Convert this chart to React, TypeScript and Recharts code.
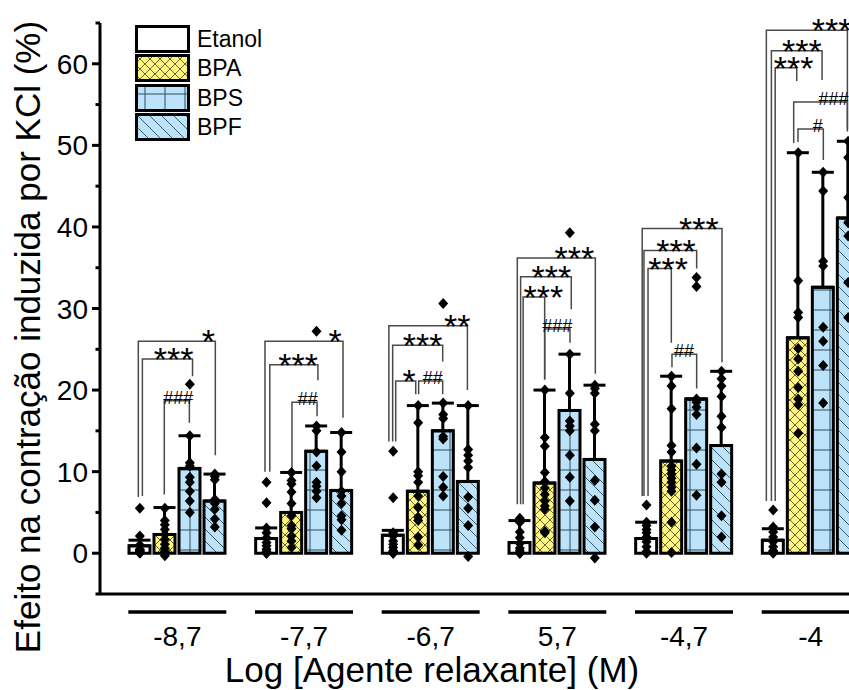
import React from 'react';
import { ComposedChart, Bar, XAxis, YAxis, Scatter, ErrorBar, Legend } from 'recharts';

const FONT = '"Liberation Sans", Arial, Helvetica, sans-serif';

// ---------- data ----------
const categories = ['-8,7', '-7,7', '-6,7', '5,7', '-4,7', '-4'];
const seriesNames = ['Etanol', 'BPA', 'BPS', 'BPF'];
const seriesKeys = ['etanol', 'bpa', 'bps', 'bpf'];

const etanolMean = [0.9, 1.8, 2.2, 1.3, 1.8, 1.6];
const etanolSd = [0.7, 1.3, 0.6, 2.7, 2.0, 1.4];
const bpaMean = [2.3, 5.0, 7.6, 8.6, 11.3, 26.4];
const bpaSd = [3.3, 4.9, 10.5, 11.4, 10.4, 22.7];
const bpsMean = [10.4, 12.5, 15.0, 17.5, 18.9, 32.6];
const bpsSd = [4.0, 3.1, 3.4, 6.9, 0, 14.1];
const bpfMean = [6.4, 7.7, 8.8, 11.5, 13.2, 41.1];
const bpfSd = [3.3, 7.1, 9.3, 9.1, 9.1, 9.4];

const etanolPts = [
  [5.5, 2.1, 1.0, 0.5, 0.3, 0.1, 0, 0.2, 0.4],
  [8.7, 6.2, 3.1, 2.5, 1.9, 1.3, 0.9, 0.5, 0.1, 0, 0.2, 0],
  [12.5, 6.8, 2.5, 2.1, 1.5, 1.1, 0.7, 0.3, 0, 0.1, 0.2, 0],
  [4.3, 3.8, 2.6, 1.9, 1.2, 0.6, 0.3, 0, 0.1, 0],
  [5.9, 3.8, 3.4, 2.9, 2.5, 2.0, 1.4, 0.8, 0.2, 0, 0.1],
  [5.3, 3.2, 2.6, 2.0, 1.4, 0.8, 0.2, 0, 0.3, 0.1],
];
const bpaPts = [
  [5.5, 4.0, 3.5, 2.9, 2.3, 1.7, 1.1, 0.6, 0.2, -0.3],
  [9.9, 8.9, 8.5, 7.5, 6.1, 4.6, 3.4, 3.0, 2.1, 1.5, 0.7],
  [18.1, 16.0, 10.0, 9.5, 8.7, 7.0, 5.6, 4.4, 4.0, 2.0, 1.0],
  [20.0, 14.2, 13.1, 9.9, 8.8, 8.0, 7.2, 6.4, 5.8, 5.4, 2.7, 2.5],
  [21.7, 20.5, 17.7, 13.2, 12.4, 10.7, 10.2, 9.7, 9.2, 8.7, 8.1, 7.6, 3.8, 0.1],
  [49.1, 33.4, 29.5, 28.9, 25.1, 23.8, 22.3, 20.3, 18.9, 18.2, 14.7],
];
const bpsPts = [
  [20.7, 14.4, 11.1, 10.7, 9.3, 8.7, 7.6, 6.4, 5.0],
  [27.2, 15.6, 15.0, 12.4, 10.7, 8.7, 8.2, 7.6, 6.8],
  [30.6, 18.4, 17.0, 16.5, 14.3, 14.0, 9.4, 8.1, 7.0],
  [39.3, 24.4, 19.6, 16.2, 15.6, 15.0, 12.0, 9.3, 6.4],
  [33.8, 32.7, 18.9, 18.5, 17.9, 17.0, 12.9, 10.9, 7.1],
  [46.7, 44.4, 35.8, 35.2, 27.7, 26.0, 23.0, 18.4],
];
const bpfPts = [
  [9.7, 9.4, 9.0, 6.6, 6.1, 5.4, 4.2, 3.2],
  [14.8, 12.4, 10.0, 7.6, 7.0, 6.1, 4.6, 4.1, 2.8],
  [18.1, 12.7, 12.0, 11.3, 10.5, 6.9, 5.5, 3.4, -0.4],
  [20.6, 20.2, 19.6, 15.8, 15.0, 8.9, 6.5, 3.2, -0.6],
  [22.3, 21.4, 20.5, 19.2, 16.8, 15.4, 9.7, 8.7, 4.6, 2.0],
  [50.5, 48.5, 43.6, 40.5, 38.9, 33.2, 28.9],
];

// significance brackets: group, left/right end (offset from group centre, in category units),
// bracket height, left/right leg bottoms, label, label position
const brackets = [
  { g: 0, x1: -0.308, x2: 0.3, top: 26.0, y1: 6.9, y2: 12.0, label: '*', lx: 0.245 },
  { g: 0, x1: -0.276, x2: 0.12, top: 23.8, y1: 7.0, y2: 21.7, label: '***', lx: -0.03 },
  { g: 0, x1: -0.103, x2: 0.095, top: 18.7, y1: 7.2, y2: 16.0, label: '###', lx: 0.008 },
  { g: 1, x1: -0.308, x2: 0.308, top: 26.0, y1: 10.0, y2: 16.6, label: '*', lx: 0.245 },
  { g: 1, x1: -0.27, x2: 0.11, top: 23.1, y1: 10.0, y2: 21.2, label: '***', lx: -0.047 },
  { g: 1, x1: -0.095, x2: 0.103, top: 18.5, y1: 10.0, y2: 16.8, label: '##', lx: 0.03 },
  { g: 2, x1: -0.33, x2: 0.29, top: 27.9, y1: 13.7, y2: 20.0, label: '**', lx: 0.21 },
  { g: 2, x1: -0.3, x2: 0.095, top: 25.5, y1: 13.7, y2: 23.5, label: '***', lx: -0.063 },
  { g: 2, x1: -0.276, x2: -0.118, top: 21.1, y1: 13.7, y2: 19.5, label: '*', lx: -0.17 },
  { g: 2, x1: -0.095, x2: 0.095, top: 21.1, y1: 19.5, y2: 19.5, label: '##', lx: 0.016 },
  { g: 3, x1: -0.316, x2: 0.3, top: 36.2, y1: 6.0, y2: 22.0, label: '***', lx: 0.134 },
  { g: 3, x1: -0.29, x2: 0.11, top: 33.9, y1: 6.0, y2: 29.9, label: '***', lx: -0.047 },
  { g: 3, x1: -0.27, x2: -0.1, top: 31.4, y1: 6.0, y2: 21.3, label: '***', lx: -0.11 },
  { g: 3, x1: -0.1, x2: 0.1, top: 27.5, y1: 21.3, y2: 25.8, label: '###', lx: 0 },
  { g: 4, x1: -0.33, x2: 0.3, top: 39.8, y1: 7.0, y2: 23.4, label: '***', lx: 0.118 },
  { g: 4, x1: -0.316, x2: 0.1, top: 37.1, y1: 7.0, y2: 34.9, label: '***', lx: -0.063 },
  { g: 4, x1: -0.284, x2: -0.1, top: 34.9, y1: 7.0, y2: 25.8, label: '***', lx: -0.126 },
  { g: 4, x1: -0.095, x2: 0.1, top: 24.4, y1: 22.8, y2: 20.2, label: '##', lx: 0 },
  { g: 5, x1: -0.35, x2: 0.29, top: 64.1, y1: 6.4, y2: 52.0, label: '***', lx: 0.166 },
  { g: 5, x1: -0.31, x2: 0.09, top: 61.6, y1: 6.4, y2: 58.0, label: '***', lx: -0.07 },
  { g: 5, x1: -0.28, x2: -0.11, top: 59.5, y1: 6.4, y2: 57.9, label: '***', lx: -0.134 },
  { g: 5, x1: -0.134, x2: 0.29, top: 55.3, y1: 50.3, y2: 51.7, label: '###', lx: 0.18 },
  { g: 5, x1: -0.1, x2: 0.1, top: 52.0, y1: 50.4, y2: 48.2, label: '#', lx: 0.055 },
];

const yTicks = [-5, 0, 5, 10, 15, 20, 25, 30, 35, 40, 45, 50, 55, 60, 65];
const yLabeledTicks = [0, 10, 20, 30, 40, 50, 60];

// ---------- layout ----------
const CHART_W = 874;
const CHART_H = 690;
const Y_AXIS_W = 100;
const PAD_LEFT = 14;
const BAR_SIZE = 21;
const BAR_GAP = 4;
const bandPx = (CHART_W - Y_AXIS_W - PAD_LEFT) / categories.length;
const barOffset = (j: number) => ((j - (seriesKeys.length - 1) / 2) * (BAR_SIZE + BAR_GAP)) / bandPx;

const fills = ['#ffffff', 'url(#patBPA)', 'url(#patBPS)', 'url(#patBPF)'];

const means = [etanolMean, bpaMean, bpsMean, bpfMean];
const sds = [etanolSd, bpaSd, bpsSd, bpfSd];
const seriesPts = [etanolPts, bpaPts, bpsPts, bpfPts];

const rows = categories.map((cat, i) => {
  const r: any = { cat };
  seriesKeys.forEach((k, j) => {
    r[k] = means[j][i];
    r[k + 'Err'] = [0, sds[j][i]];
  });
  return r;
});

const pointData = seriesPts.map((groups, j) =>
  groups.flatMap((vals, g) => vals.map((v) => ({ x: g + barOffset(j), y: v })))
);

const bracketPaths = brackets.map((b) => [
  { x: b.g + b.x1, y: b.y1 },
  { x: b.g + b.x1, y: b.top },
  { x: b.g + b.x2, y: b.top },
  { x: b.g + b.x2, y: b.y2 },
]);

const labelData = brackets.map((b) => ({ x: b.g + b.lx, y: b.top, label: b.label }));

// ---------- renderers ----------
function Diamond(props: any) {
  const { cx, cy } = props;
  if (cx == null || cy == null) return <g />;
  return <path d={`M${cx},${cy - 5.5} L${cx + 5},${cy} L${cx},${cy + 5.5} L${cx - 5},${cy} Z`} fill="#000" />;
}

function Empty() {
  return <g />;
}

function SigLabel(props: any) {
  const { cx, cy, payload } = props;
  const isStar = payload.label.indexOf('*') >= 0;
  return (
    <text
      x={cx}
      y={cy + (isStar ? 12 : 3)}
      textAnchor="middle"
      fontFamily={FONT}
      fontSize={isStar ? 34 : 18}
      fill="#000"
    >
      {payload.label}
    </text>
  );
}

function XTick(props: any) {
  const { x, y, payload } = props;
  const half = (seriesKeys.length * BAR_SIZE + (seriesKeys.length - 1) * BAR_GAP) / 2 + 1;
  return (
    <g>
      <line x1={x - half} x2={x + half} y1={y + 18} y2={y + 18} stroke="#000" strokeWidth={3.5} />
      <text x={x} y={y + 52} textAnchor="middle" fontFamily={FONT} fontSize={28} fill="#000">
        {payload.value}
      </text>
    </g>
  );
}

function YTick(props: any) {
  const { x, y, payload } = props;
  const v = payload.value;
  const major = yLabeledTicks.indexOf(v) >= 0;
  return (
    <g>
      <line x1={x - (major ? 8 : 4.5)} x2={x} y1={y} y2={y} stroke="#000" strokeWidth={3} />
      {major && (
        <text x={x - 12} y={y + 10} textAnchor="end" fontFamily={FONT} fontSize={28} fill="#000">
          {v}
        </text>
      )}
    </g>
  );
}

function YTitle() {
  return (
    <text
      x={40}
      y={337}
      transform="rotate(-90, 40, 337)"
      textAnchor="middle"
      fontFamily={FONT}
      fontSize={35}
      fill="#000"
    >
      Efeito na contração induzida por KCl (%)
    </text>
  );
}

function XTitle() {
  return (
    <text x={432} y={682} textAnchor="middle" fontFamily={FONT} fontSize={35} fill="#000">
      Log [Agente relaxante] (M)
    </text>
  );
}

function LegendBox() {
  return (
    <div style={{ fontFamily: FONT, fontSize: 23, lineHeight: 1, color: '#000' }}>
      {seriesNames.map((name, i) => (
        <div key={name} style={{ display: 'flex', alignItems: 'center', height: 29.3 }}>
          <svg width={56} height={29} style={{ display: 'block' }}>
            <rect x={1.5} y={1.5} width={52} height={25} fill={fills[i]} stroke="#000" strokeWidth={3} />
          </svg>
          <span style={{ marginLeft: 6 }}>{name}</span>
        </div>
      ))}
    </div>
  );
}

export default function App() {
  return (
    <div
      style={{
        position: 'absolute',
        left: 0,
        top: 0,
        width: 849,
        height: 690,
        overflow: 'hidden',
        background: '#fff',
      }}
    >
      <svg width={0} height={0} style={{ position: 'absolute' }}>
        <defs>
          <pattern id="patBPA" patternUnits="userSpaceOnUse" width="10" height="10">
            <rect width="10" height="10" fill="#fff57f" />
            <path d="M0,0 L10,10 M10,0 L0,10" stroke="#55553a" strokeWidth="0.9" />
          </pattern>
          <pattern id="patBPS" patternUnits="userSpaceOnUse" width="20" height="20">
            <rect width="20" height="20" fill="#bde3fa" />
            <path d="M10,0 V20 M0,10 H20" stroke="#2d4b5b" strokeWidth="1" />
          </pattern>
          <pattern id="patBPF" patternUnits="userSpaceOnUse" width="12" height="12">
            <rect width="12" height="12" fill="#bde3fa" />
            <path d="M0,0 L12,12 M-6,6 L6,18 M6,-6 L18,6" stroke="#2d4b5b" strokeWidth="0.9" />
          </pattern>
        </defs>
      </svg>
      <ComposedChart
        width={CHART_W}
        height={CHART_H}
        data={rows}
        margin={{ top: 23, right: 0, bottom: 0, left: 0 }}
        barGap={BAR_GAP}
        barCategoryGap={0}
      >
        <XAxis
          xAxisId="cat"
          dataKey="cat"
          type="category"
          height={96}
          padding={{ left: PAD_LEFT, right: 0 }}
          axisLine={{ stroke: '#000', strokeWidth: 3 }}
          tickLine={false}
          tickSize={0}
          tickMargin={0}
          interval={0}
          tick={XTick}
          label={XTitle}
        />
        <XAxis
          xAxisId="num"
          dataKey="x"
          type="number"
          domain={[-0.5, 5.5]}
          tickCount={13}
          hide
          padding={{ left: PAD_LEFT, right: 0 }}
        />
        <YAxis
          type="number"
          domain={[-5, 65]}
          ticks={yTicks}
          tickCount={15}
          interval={0}
          width={Y_AXIS_W}
          axisLine={{ stroke: '#000', strokeWidth: 3 }}
          tickLine={false}
          tickSize={0}
          tickMargin={0}
          tick={YTick}
          label={YTitle}
        />
        {seriesKeys.map((k, j) => (
          <Bar
            key={k}
            xAxisId="cat"
            dataKey={k}
            name={seriesNames[j]}
            barSize={BAR_SIZE}
            fill={fills[j]}
            stroke="#000"
            strokeWidth={3}
            isAnimationActive={false}
          >
            <ErrorBar dataKey={k + 'Err'} width={11} stroke="#000" strokeWidth={3} direction="y" />
          </Bar>
        ))}
        {bracketPaths.map((d, i) => (
          <Scatter
            key={'b' + i}
            xAxisId="num"
            data={d}
            dataKey="y"
            line={{ stroke: '#4a4a4a', strokeWidth: 1.5 }}
            shape={Empty}
            isAnimationActive={false}
          />
        ))}
        {pointData.map((d, j) => (
          <Scatter key={'p' + j} xAxisId="num" data={d} dataKey="y" shape={Diamond} isAnimationActive={false} />
        ))}
        <Scatter xAxisId="num" data={labelData} dataKey="y" shape={SigLabel} isAnimationActive={false} />
        <Legend
          layout="vertical"
          align="center"
          verticalAlign="middle"
          content={LegendBox}
          wrapperStyle={{ left: 135, top: 25, width: 'auto', height: 'auto' }}
        />
      </ComposedChart>
    </div>
  );
}
